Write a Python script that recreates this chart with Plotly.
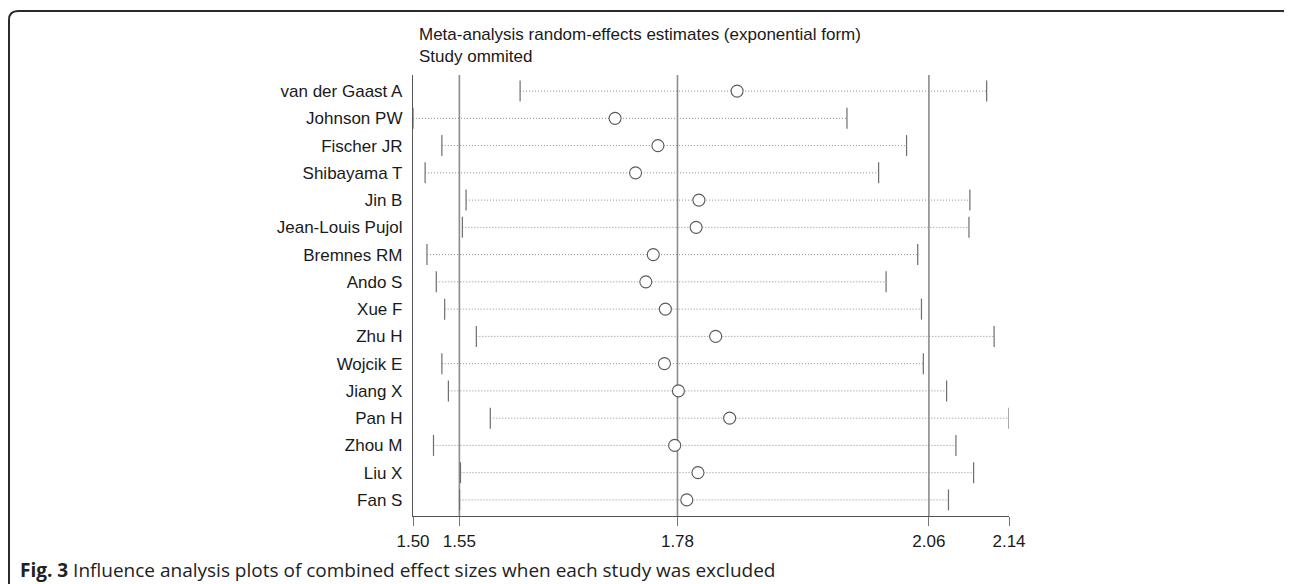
import plotly.graph_objects as go

# ---- data (influence analysis, one study omitted per row) ----
studies = ["van der Gaast A", "Johnson PW", "Fischer JR", "Shibayama T", "Jin B",
           "Jean-Louis Pujol", "Bremnes RM", "Ando S", "Xue F", "Zhu H",
           "Wojcik E", "Jiang X", "Pan H", "Zhou M", "Liu X", "Fan S"]
estimate = [1.848, 1.717, 1.763, 1.739, 1.807, 1.804, 1.758, 1.750,
            1.771, 1.825, 1.770, 1.785, 1.840, 1.781, 1.806, 1.794]
ci_lower = [1.615, 1.500, 1.531, 1.513, 1.557, 1.553, 1.515, 1.525,
            1.534, 1.568, 1.531, 1.538, 1.583, 1.522, 1.551, 1.550]
ci_upper = [2.116, 1.966, 2.030, 2.000, 2.098, 2.097, 2.042, 2.008,
            2.046, 2.124, 2.048, 2.073, 2.140, 2.083, 2.102, 2.075]

# pooled estimate with all studies: lower CI, estimate, upper CI
pooled = [1.5498, 1.784, 2.054]
x_range = [1.50, 2.14]
tick_vals = [1.50, 1.5498, 1.784, 2.054, 2.14]
tick_text = ["1.50", "1.55", "1.78", "2.06", "2.14"]

# ---- page geometry (pixels on the page; the html body adds an 8px margin) ----
OFF = 8
W, H = 1292 - OFF, 584 - OFF
ML, MT = 413 - OFF, 75 - OFF
PW, PH = 596, 441
MR, MB = W - ML - PW, H - MT - PH

def px_x(p):
    return (p - OFF - ML) / PW

def px_y(p):
    return 1 - (p - OFF - MT) / PH

FONT = "Liberation Sans, Arial, sans-serif"
rows = list(range(1, len(studies) + 1))

fig = go.Figure()

# dotted confidence interval lines
for i, r in enumerate(rows):
    fig.add_trace(go.Scatter(
        x=[ci_lower[i], ci_upper[i]], y=[r, r], mode="lines",
        line=dict(color="#8a8a8a", width=1, dash="1px,2px"),
        hoverinfo="skip"))

# end caps
fig.add_trace(go.Scatter(
    x=ci_lower + ci_upper, y=rows + rows, mode="markers",
    marker=dict(symbol="line-ns", size=15, line=dict(color="#6e6e6e", width=1.2)),
    hoverinfo="skip"))

# estimates
fig.add_trace(go.Scatter(
    x=estimate, y=rows, mode="markers",
    marker=dict(symbol="circle", size=12, color="white",
                line=dict(color="#5a5a5a", width=1.1)),
    text=studies, hovertemplate="%{text}: %{x:.2f}<extra></extra>"))

# reference lines at pooled CI and estimate
for v in pooled:
    fig.add_shape(type="line", x0=v, x1=v, y0=0, y1=1, xref="x", yref="paper",
                  line=dict(color="#8c8c8c", width=1.6), layer="below")

# rounded figure frame (bottom runs off the page)
path = (f"M {px_x(9)} {px_y(600)} L {px_x(9)} {px_y(20)} "
        f"Q {px_x(9)} {px_y(11)} {px_x(18)} {px_y(11)} "
        f"L {px_x(1282)} {px_y(11)} "
        f"Q {px_x(1291)} {px_y(11)} {px_x(1291)} {px_y(20)} "
        f"L {px_x(1291)} {px_y(600)}")
fig.add_shape(type="path", path=path, xref="paper", yref="paper",
              line=dict(color="#2b2b2b", width=2))

# titles
fig.add_annotation(text="Meta-analysis random-effects estimates (exponential form)",
                   x=px_x(417), y=px_y(35), xref="paper", yref="paper",
                   xanchor="left", yanchor="middle", showarrow=False,
                   font=dict(family=FONT, size=17, color="#1a1a1a"))
fig.add_annotation(text="Study ommited",
                   x=px_x(417), y=px_y(57), xref="paper", yref="paper",
                   xanchor="left", yanchor="middle", showarrow=False,
                   font=dict(family=FONT, size=17, color="#1a1a1a"))

# caption
fig.add_annotation(text="<b>Fig. 3</b> Influence analysis plots of combined effect sizes when each study was excluded",
                   x=px_x(18), y=px_y(570), xref="paper", yref="paper",
                   xanchor="left", yanchor="middle", showarrow=False,
                   font=dict(family="Open Sans, sans-serif", size=19, color="#222222"))

fig.update_layout(
    width=W, height=H,
    margin=dict(l=ML, r=MR, t=MT, b=MB),
    paper_bgcolor="white", plot_bgcolor="white",
    showlegend=False,
    xaxis=dict(range=x_range, tickvals=tick_vals, ticktext=tick_text,
               showgrid=False, zeroline=False,
               showline=True, linecolor="#555555", linewidth=1.3,
               ticks="outside", ticklen=9, tickcolor="#777777", tickwidth=1.2,
               tickfont=dict(family=FONT, size=17, color="#1a1a1a")),
    yaxis=dict(range=[len(studies) + 0.59, 0.41], tickvals=rows, ticktext=studies,
               showgrid=False, zeroline=False,
               showline=True, linecolor="#555555", linewidth=1.3,
               ticks="", ticklabelstandoff=6,
               tickfont=dict(family=FONT, size=17, color="#1a1a1a")),
)

fig.write_html("out.html")
